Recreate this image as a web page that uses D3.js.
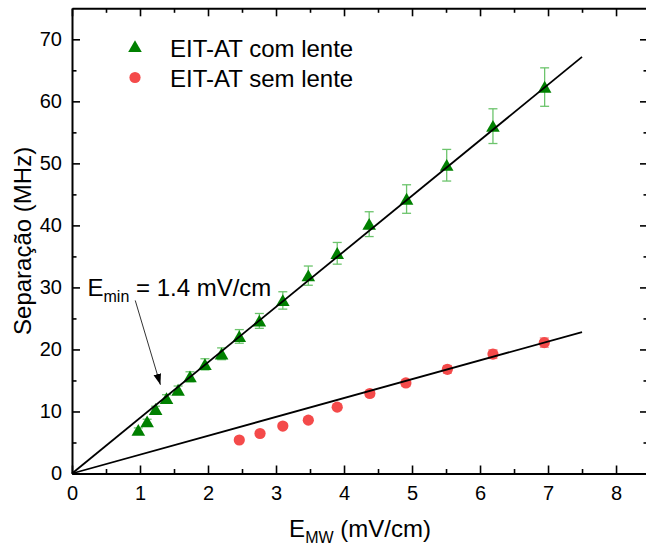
<!DOCTYPE html>
<html>
<head>
<meta charset="utf-8">
<script src="https://cdn.jsdelivr.net/npm/d3@7"></script>
<style>
  html, body { margin: 0; padding: 0; background: #fff; }
  svg { display: block; font-family: "Liberation Sans", Arial, sans-serif; }
</style>
</head>
<body>
<svg id="chart" width="646" height="547"></svg>
<script>
// Measured field amplitude (mV/cm) and AT splitting (MHz), with lens
const comLenteX   = [0.975, 1.105, 1.23, 1.39, 1.56, 1.735, 1.955, 2.20, 2.46, 2.755, 3.10, 3.475, 3.90, 4.37, 4.92, 5.51, 6.19, 6.95];
const comLenteY   = [7.0, 8.35, 10.35, 12.1, 13.45, 15.6, 17.6, 19.3, 22.1, 24.6, 27.9, 31.9, 35.5, 40.2, 44.25, 49.7, 56.0, 62.3];
const comLenteErr = [0.35, 0.4, 0.5, 0.6, 0.65, 0.8, 0.9, 0.95, 1.1, 1.2, 1.4, 1.55, 1.75, 2.0, 2.3, 2.55, 2.8, 3.1];

// Same measurement without lens
const semLenteX   = [2.46, 2.765, 3.10, 3.475, 3.90, 4.38, 4.91, 5.52, 6.19, 6.945];
const semLenteY   = [5.4, 6.45, 7.65, 8.6, 10.7, 12.9, 14.6, 16.8, 19.25, 21.1];
const semLenteErr = [0.25, 0.3, 0.35, 0.4, 0.45, 0.5, 0.55, 0.6, 0.7, 0.75];

// Linear fits through the origin (MHz per mV/cm) and their extent
const fitSlopes = [8.955, 3.04];
const fitRange  = [0, 7.5];

// Axis ticks
const xTicks = [0, 1, 2, 3, 4, 5, 6, 7, 8];
const xMinor = [0.5, 1.5, 2.5, 3.5, 4.5, 5.5, 6.5, 7.5];
const yTicks = [0, 10, 20, 30, 40, 50, 60, 70];
const yMinor = [5, 15, 25, 35, 45, 55, 65];

const legendLabels = ["EIT-AT com lente", "EIT-AT sem lente"];
const annotation = { base: "E", sub: "min", rest: " = 1.4 mV/cm", from: [0.93, 27.9], to: [1.30, 14.3] };

const green = "#008000", greenErr = "#6cc46c", red = "#f44a4a", redErr = "#f48a8a";

const svg = d3.select("#chart");
const x = d3.scaleLinear().domain([0, 8.47]).range([72, 648]);
const y = d3.scaleLinear().domain([0, 75]).range([473.5, 8.3]);

const triPath = "M0,-6.2L6.8,5.6L-6.8,5.6Z";

// Error bars
function errorBars(xs, ys, es, color) {
  const g = svg.append("g").attr("stroke", color).attr("stroke-width", 1.3).attr("fill", "none");
  xs.forEach((xv, i) => {
    const cx = x(xv), y0 = y(ys[i] - es[i]), y1 = y(ys[i] + es[i]);
    g.append("line").attr("x1", cx).attr("x2", cx).attr("y1", y0).attr("y2", y1);
    g.append("line").attr("x1", cx - 4.5).attr("x2", cx + 4.5).attr("y1", y0).attr("y2", y0);
    g.append("line").attr("x1", cx - 4.5).attr("x2", cx + 4.5).attr("y1", y1).attr("y2", y1);
  });
}
errorBars(comLenteX, comLenteY, comLenteErr, greenErr);
errorBars(semLenteX, semLenteY, semLenteErr, redErr);

// Markers
svg.append("g").selectAll("path").data(comLenteX).join("path")
  .attr("d", triPath)
  .attr("transform", (d, i) => `translate(${x(d)},${y(comLenteY[i])})`)
  .attr("fill", green);
svg.append("g").selectAll("circle").data(semLenteX).join("circle")
  .attr("cx", d => x(d)).attr("cy", (d, i) => y(semLenteY[i])).attr("r", 5.6)
  .attr("fill", red);

// Fit lines
const line = d3.line().x(d => x(d[0])).y(d => y(d[1]));
fitSlopes.forEach(m => {
  svg.append("path")
    .attr("d", line(fitRange.map(v => [v, m * v])))
    .attr("fill", "none").attr("stroke", "#000").attr("stroke-width", 1.8);
});

// Axes (ticks pointing inward on all four sides)
function styleAxis(g) {
  g.select(".domain").attr("stroke", "#000").attr("stroke-width", 2);
  g.selectAll(".tick line").attr("stroke", "#000").attr("stroke-width", 1.6);
  g.selectAll("text").attr("font-size", 20).attr("fill", "#000")
    .attr("font-family", "'Liberation Sans', Arial, sans-serif");
}
const yBase = y(0), yTop = y.range()[1], xLeft = x(0), xRight = x.range()[1];

const axBottom = svg.append("g").attr("transform", `translate(0,${yBase})`)
  .call(d3.axisBottom(x).tickValues(xTicks).tickSizeInner(-8).tickSizeOuter(0).tickPadding(12).tickFormat(d3.format("d")));
styleAxis(axBottom);
axBottom.selectAll("text").attr("y", 12).attr("dy", "0.71em");
svg.append("g").attr("transform", `translate(0,${yBase})`)
  .call(d3.axisBottom(x).tickValues(xMinor).tickSize(-4.5).tickFormat(""))
  .call(g => { styleAxis(g); g.select(".domain").remove(); });

const axTop = svg.append("g").attr("transform", `translate(0,${yTop})`)
  .call(d3.axisTop(x).tickValues(xTicks).tickSizeInner(-8).tickSizeOuter(0).tickFormat(""));
styleAxis(axTop);
svg.append("g").attr("transform", `translate(0,${yTop})`)
  .call(d3.axisTop(x).tickValues(xMinor).tickSize(-4.5).tickFormat(""))
  .call(g => { styleAxis(g); g.select(".domain").remove(); });

const axLeft = svg.append("g").attr("transform", `translate(${xLeft},0)`)
  .call(d3.axisLeft(y).tickValues(yTicks).tickSizeInner(-8).tickSizeOuter(0).tickPadding(10).tickFormat(d3.format("d")));
styleAxis(axLeft);
axLeft.selectAll("text").attr("x", -10);
svg.append("g").attr("transform", `translate(${xLeft},0)`)
  .call(d3.axisLeft(y).tickValues(yMinor).tickSize(-4.5).tickFormat(""))
  .call(g => { styleAxis(g); g.select(".domain").remove(); });

const axRight = svg.append("g").attr("transform", `translate(${xRight},0)`)
  .call(d3.axisRight(y).tickValues(yTicks).tickSizeInner(-8).tickSizeOuter(0).tickFormat(""));
styleAxis(axRight);
svg.append("g").attr("transform", `translate(${xRight},0)`)
  .call(d3.axisRight(y).tickValues(yMinor).tickSize(-4.5).tickFormat(""))
  .call(g => { styleAxis(g); g.select(".domain").remove(); });

// Axis titles
const xTitle = svg.append("text").attr("x", (xLeft + xRight) / 2).attr("y", 536.5)
  .attr("text-anchor", "middle").attr("font-size", 24).attr("fill", "#000");
xTitle.append("tspan").text("E");
xTitle.append("tspan").attr("font-size", 16).attr("dy", 6).text("MW");
xTitle.append("tspan").attr("dy", -6).text(" (mV/cm)");

svg.append("text")
  .attr("transform", `translate(30.5,${(yBase + yTop) / 2}) rotate(-90)`)
  .attr("text-anchor", "middle").attr("font-size", 24).attr("fill", "#000")
  .text("Separação (MHz)");

// Legend
const legend = svg.append("g");
legend.append("path").attr("d", triPath).attr("transform", "translate(135,46.5)").attr("fill", green);
legend.append("circle").attr("cx", 135).attr("cy", 77.5).attr("r", 5.6).attr("fill", red);
legendLabels.forEach((t, i) => {
  legend.append("text").attr("x", 170).attr("y", 56.5 + i * 30.5)
    .attr("font-size", 24).attr("fill", "#000").text(t);
});

// Annotation with arrow
svg.append("defs").append("marker")
  .attr("id", "arrowhead").attr("viewBox", "0 0 10 10").attr("refX", 10).attr("refY", 5)
  .attr("markerWidth", 11).attr("markerHeight", 11).attr("markerUnits", "userSpaceOnUse")
  .attr("orient", "auto")
  .append("path").attr("d", "M0,1.5L10,5L0,8.5Z").attr("fill", "#000");
svg.append("line")
  .attr("x1", x(annotation.from[0])).attr("y1", y(annotation.from[1]))
  .attr("x2", x(annotation.to[0])).attr("y2", y(annotation.to[1]))
  .attr("stroke", "#333").attr("stroke-width", 1).attr("marker-end", "url(#arrowhead)");

const ann = svg.append("text").attr("x", 87.5).attr("y", 296).attr("font-size", 24).attr("fill", "#000");
ann.append("tspan").text(annotation.base);
ann.append("tspan").attr("font-size", 16).attr("dy", 5.5).text(annotation.sub);
ann.append("tspan").attr("dy", -5.5).text(annotation.rest);
</script>
</body>
</html>
